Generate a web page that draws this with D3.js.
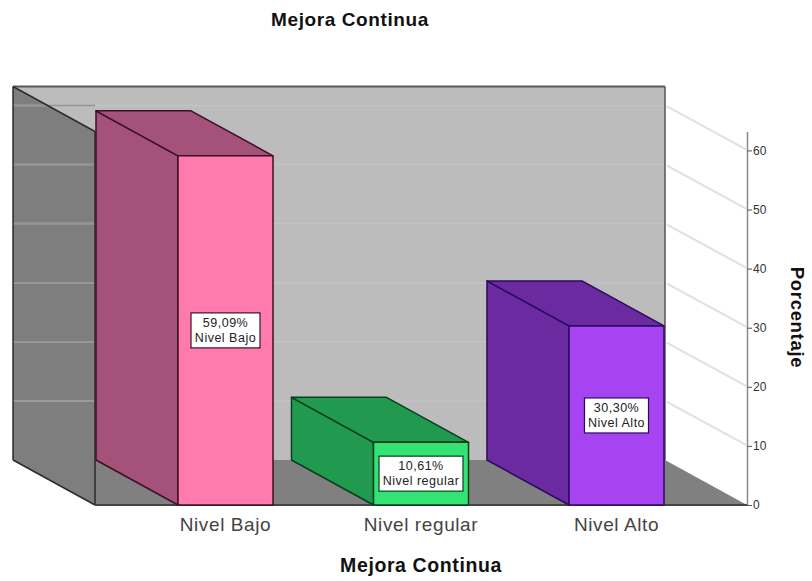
<!DOCTYPE html>
<html>
<head>
<meta charset="utf-8">
<style>
html,body{margin:0;padding:0;background:#fff}
svg{display:block}
text{font-family:"Liberation Sans",Arial,sans-serif}
</style>
<script src="https://cdn.jsdelivr.net/npm/d3@7/dist/d3.min.js"></script>
</head>
<body>
<svg id="chart" width="812" height="581"></svg>
<script>
// Percentages per level of "Mejora Continua"
const categories = ["Nivel Bajo", "Nivel regular", "Nivel Alto"];
const percentages = [59.09, 10.61, 30.30];
const yTicks = [0, 10, 20, 30, 40, 50, 60];
const frontColors = ["#ff7bae", "#33e474", "#a544f0"];
const sideColors = ["#a5527a", "#219a50", "#6c2aa0"];
const topColors = ["#a5527a", "#219a50", "#6c2aa0"];
const edgeColors = ["#3d0f28", "#0b3d1e", "#2b0a60"];

const svg = d3.select("#chart");

// Oblique projection: the back plane sits up and to the left of the front plane
const depthX = -82, depthY = -45;
const floorY = 505, frontLeft = 95, frontRight = 747, axisTop = 131.5;

const y = d3.scaleLinear().domain([0, 63.2]).range([floorY, axisTop]);
const x = d3.scaleBand().domain(categories).range([127.75, 714.25])
  .paddingInner(0.514).paddingOuter(0.257);

const backLeft = frontLeft + depthX, backRight = frontRight + depthX;
const backFloor = floorY + depthY, backTop = axisTop + depthY;
const pts = a => a.map(p => p.join(",")).join(" ");

// Back wall
svg.append("rect").attr("x", backLeft).attr("y", backTop)
  .attr("width", backRight - backLeft).attr("height", backFloor - backTop)
  .attr("fill", "#bcbcbc");

// Floor
svg.append("polygon")
  .attr("points", pts([[backLeft, backFloor], [backRight, backFloor], [frontRight, floorY], [frontLeft, floorY]]))
  .attr("fill", "#808080");

// Left wall
svg.append("polygon")
  .attr("points", pts([[backLeft, backTop], [frontLeft, axisTop], [frontLeft, floorY], [backLeft, backFloor]]))
  .attr("fill", "#7e7e7e");

// Gridlines across both walls and the diagonals out to the value axis
const gridTicks = yTicks.filter(d => d > 0);
svg.append("g").selectAll("line").data(gridTicks).join("line")
  .attr("x1", backLeft).attr("x2", backRight)
  .attr("y1", d => y(d) + depthY).attr("y2", d => y(d) + depthY)
  .attr("stroke", "#c3c3c3").attr("stroke-width", 1.5);
svg.append("g").selectAll("line").data(gridTicks).join("line")
  .attr("x1", backLeft).attr("x2", frontLeft)
  .attr("y1", d => y(d) + depthY).attr("y2", d => y(d) + depthY)
  .attr("stroke", "#949494").attr("stroke-width", 1.5);
svg.append("g").selectAll("line").data(gridTicks).join("line")
  .attr("x1", backRight + 2).attr("x2", frontRight - 1)
  .attr("y1", d => y(d) + depthY + 1).attr("y2", d => y(d) - 1)
  .attr("stroke", "#e0e0e0").attr("stroke-width", 2);

// Frame edges
const edge = (x1, y1, x2, y2, c, w) => svg.append("line")
  .attr("x1", x1).attr("y1", y1).attr("x2", x2).attr("y2", y2)
  .attr("stroke", c).attr("stroke-width", w);
edge(backLeft, backTop, backRight, backTop, "#5a5a5a", 2);
edge(backRight, backTop, backRight, backFloor, "#555", 1.5);
edge(backLeft, backTop, backLeft, backFloor, "#2c2c2c", 1.5);
edge(backLeft, backTop, frontLeft, axisTop, "#2c2c2c", 1.5);
edge(backLeft, backFloor, frontLeft, floorY, "#2c2c2c", 1.5);
edge(frontLeft, axisTop, frontLeft, floorY, "#2c2c2c", 1.5);

// Value axis on the right
const axis = d3.axisRight(y).tickValues(yTicks).tickSize(5).tickSizeOuter(0).tickPadding(1);
const gAxis = svg.append("g").attr("transform", `translate(${frontRight},0)`).call(axis);
gAxis.select(".domain").attr("stroke", "#8a8a8a").attr("stroke-width", 1.5);
gAxis.selectAll(".tick line").attr("stroke", "#555");
gAxis.selectAll("text").attr("font-size", 12).attr("fill", "#333")
  .style("font-family", '"Liberation Sans",Arial,sans-serif');

// Floor front edge
edge(frontLeft, floorY, frontRight, floorY, "#444", 1.8);

// Bars: side, top and front faces
const rows = categories.map((c, i) => ({c, v: percentages[i], i}));
const bars = svg.append("g").selectAll("g").data(rows).join("g")
  .attr("stroke-linejoin", "round");
const L = d => x(d.c), R = d => x(d.c) + x.bandwidth();
bars.append("polygon")
  .attr("points", d => pts([[L(d) + depthX, y(d.v) + depthY], [L(d), y(d.v)], [L(d), floorY], [L(d) + depthX, floorY + depthY]]))
  .attr("fill", d => sideColors[d.i]).attr("stroke", d => edgeColors[d.i]).attr("stroke-width", 1.5);
bars.append("polygon")
  .attr("points", d => pts([[L(d) + depthX, y(d.v) + depthY], [R(d) + depthX, y(d.v) + depthY], [R(d), y(d.v)], [L(d), y(d.v)]]))
  .attr("fill", d => topColors[d.i]).attr("stroke", d => edgeColors[d.i]).attr("stroke-width", 1.5);
bars.append("rect")
  .attr("x", L).attr("y", d => y(d.v))
  .attr("width", x.bandwidth()).attr("height", d => floorY - y(d.v))
  .attr("fill", d => frontColors[d.i]).attr("stroke", d => edgeColors[d.i]).attr("stroke-width", 1.5);

// Data labels centred on each front face
const esLocale = d3.formatLocale({decimal: ",", thousands: ".", grouping: [3], currency: ["", ""]});
const fmt = esLocale.format(".2f");
const labels = svg.append("g").selectAll("g").data(rows).join("g")
  .attr("transform", d => `translate(${L(d) + x.bandwidth() / 2},${(y(d.v) + floorY) / 2})`);
const boxW = [69, 84, 64];
labels.append("rect")
  .attr("x", d => -boxW[d.i] / 2).attr("y", -17.5)
  .attr("width", d => boxW[d.i]).attr("height", 35)
  .attr("fill", "#fff").attr("stroke", d => edgeColors[d.i]).attr("stroke-width", 1.2);
labels.append("text").attr("text-anchor", "middle").attr("y", -3.5)
  .attr("font-size", 12.5).attr("letter-spacing", 0.5).attr("fill", "#222").text(d => fmt(d.v) + "%");
labels.append("text").attr("text-anchor", "middle").attr("y", 11.5)
  .attr("font-size", 12.5).attr("letter-spacing", 0.5).attr("fill", "#222").text(d => d.c);

// Category labels
svg.append("g").selectAll("text").data(categories).join("text")
  .attr("x", d => x(d) + x.bandwidth() / 2).attr("y", 531)
  .attr("text-anchor", "middle").attr("font-size", 19).attr("letter-spacing", 0.6).attr("fill", "#444")
  .text(d => d);

// Titles
svg.append("text").attr("x", 350).attr("y", 25.5).attr("text-anchor", "middle")
  .attr("font-size", 19).attr("font-weight", "bold").attr("letter-spacing", 0.6).attr("fill", "#111")
  .text("Mejora Continua");
svg.append("text").attr("x", 421).attr("y", 571.5).attr("text-anchor", "middle")
  .attr("font-size", 19.5).attr("font-weight", "bold").attr("letter-spacing", 0.6).attr("fill", "#111")
  .text("Mejora Continua");
svg.append("text").attr("transform", "translate(791,317.5) rotate(90)").attr("text-anchor", "middle")
  .attr("font-size", 18.5).attr("font-weight", "bold").attr("letter-spacing", 0.7).attr("fill", "#111")
  .text("Porcentaje");
</script>
</body>
</html>
